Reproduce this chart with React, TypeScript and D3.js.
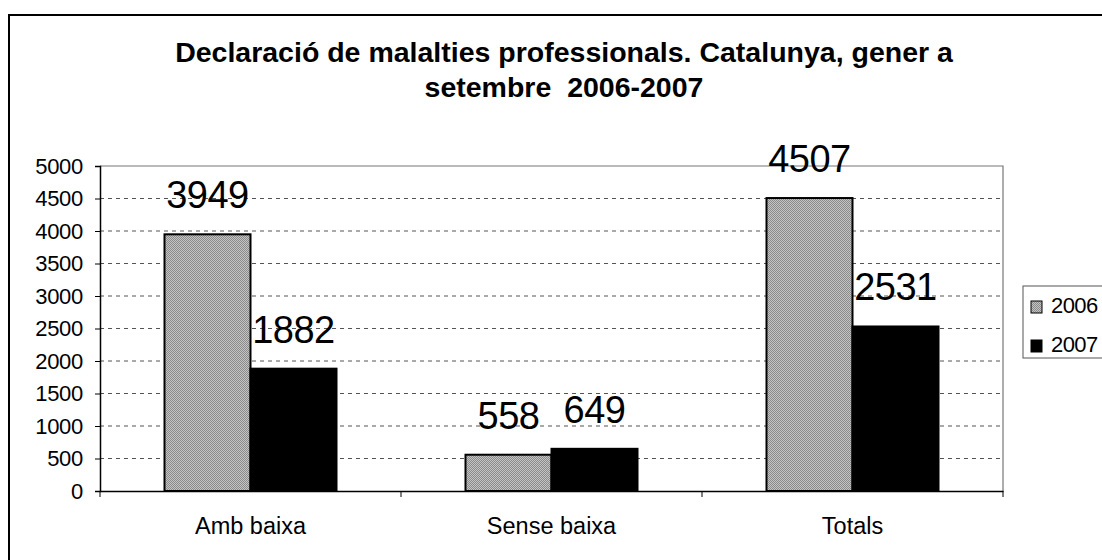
import React, { useEffect, useRef } from "react";
import * as d3 from "d3";

const categories = ["Amb baixa", "Sense baixa", "Totals"];
const series = ["2006", "2007"];
const values2006 = [3949, 558, 4507];
const values2007 = [1882, 649, 2531];
const yTicks = [0, 500, 1000, 1500, 2000, 2500, 3000, 3500, 4000, 4500, 5000];
const titleLines = [
  "Declaració de malalties professionals. Catalunya, gener a",
  "setembre  2006-2007",
];

const width = 1102;
const height = 560;
const marginTop = 166;
const marginBottom = 491;
const marginLeft = 100;
const marginRight = 1003;
const font = "'Liberation Sans', Arial, sans-serif";

const drawChart = (node: SVGSVGElement) => {
  const svg = d3.select(node);
  svg.selectAll("*").remove();

  // halftone grey used by Excel for the 2006 series
  const defs = svg.append("defs");
  const pat = defs
    .append("pattern")
    .attr("id", "grey")
    .attr("width", 2)
    .attr("height", 2)
    .attr("patternUnits", "userSpaceOnUse");
  pat.append("rect").attr("width", 2).attr("height", 2).attr("fill", "#c4c4c4");
  pat.append("rect").attr("width", 1).attr("height", 1).attr("fill", "#8a8a8a");
  pat.append("rect").attr("x", 1).attr("y", 1).attr("width", 1).attr("height", 1).attr("fill", "#8a8a8a");

  svg.append("rect").attr("width", width).attr("height", height).attr("fill", "#fff");

  // outer chart border
  svg
    .append("path")
    .attr("d", `M9,${height + 5}V15H${width + 5}`)
    .attr("fill", "none")
    .attr("stroke", "#000")
    .attr("stroke-width", 2);

  // title
  svg
    .append("g")
    .selectAll("text")
    .data(titleLines)
    .enter()
    .append("text")
    .attr("x", 564)
    .attr("y", (d, i) => 62 + i * 35)
    .attr("text-anchor", "middle")
    .attr("font-family", font)
    .attr("font-weight", "bold")
    .attr("font-size", 28.5)
    .style("white-space", "pre")
    .text((d) => d);

  const x0 = d3.scaleBand().domain(categories).range([marginLeft, marginRight]).padding(0);
  const x1 = d3
    .scaleBand()
    .domain(series)
    .range([0, x0.bandwidth()])
    .paddingInner(0)
    .paddingOuter(0.75);
  const y = d3.scaleLinear().domain([0, 5000]).range([marginBottom, marginTop]);

  // gridlines
  svg
    .append("g")
    .selectAll("line")
    .data(yTicks.filter((t) => t > 0 && t < 5000))
    .enter()
    .append("line")
    .attr("x1", marginLeft)
    .attr("x2", marginRight)
    .attr("y1", (d) => y(d))
    .attr("y2", (d) => y(d))
    .attr("stroke", "#555")
    .attr("stroke-dasharray", "4,4");

  // plot area frame (top + right)
  svg
    .append("path")
    .attr("d", `M${marginLeft},${marginTop}H${marginRight}V${marginBottom}`)
    .attr("fill", "none")
    .attr("stroke", "#777")
    .attr("stroke-width", 1.2);

  const rows = categories.map((c, i) => ({
    cat: c,
    vals: [
      { s: "2006", v: values2006[i] },
      { s: "2007", v: values2007[i] },
    ],
  }));

  const groups = svg
    .append("g")
    .selectAll("g")
    .data(rows)
    .enter()
    .append("g")
    .attr("transform", (d) => `translate(${x0(d.cat)},0)`);

  groups
    .selectAll("rect")
    .data((d) => d.vals)
    .enter()
    .append("rect")
    .attr("x", (d) => x1(d.s)!)
    .attr("y", (d) => y(d.v))
    .attr("width", x1.bandwidth())
    .attr("height", (d) => y(0) - y(d.v))
    .attr("fill", (d) => (d.s === "2006" ? "url(#grey)" : "#000"))
    .attr("stroke", "#000")
    .attr("stroke-width", 2);

  groups
    .selectAll("text")
    .data((d) => d.vals)
    .enter()
    .append("text")
    .attr("x", (d) => x1(d.s)! + x1.bandwidth() / 2)
    .attr("y", (d) => y(d.v) - 26)
    .attr("text-anchor", "middle")
    .attr("font-family", font)
    .attr("font-size", 38)
    .attr("letter-spacing", -0.5)
    .text((d) => d.v);

  // y axis
  const yAxis = svg
    .append("g")
    .attr("transform", `translate(${marginLeft},0)`)
    .call(
      d3.axisLeft(y).tickValues(yTicks).tickFormat(d3.format("d")).tickSize(5).tickPadding(12)
    );
  yAxis.select(".domain").attr("stroke", "#000").attr("stroke-width", 1.5);
  yAxis
    .selectAll("text")
    .attr("font-family", font)
    .attr("font-size", 22)
    .attr("letter-spacing", -0.3)
    .attr("fill", "#000");

  // x axis
  const xAxis = svg
    .append("g")
    .attr("transform", `translate(0,${marginBottom})`)
    .call(d3.axisBottom(x0).tickSize(0).tickPadding(26));
  xAxis.select(".domain").attr("stroke", "#000").attr("stroke-width", 1.5);
  xAxis
    .selectAll("text")
    .attr("font-family", font)
    .attr("font-size", 23.5)
    .attr("fill", "#000");
  xAxis
    .selectAll("line.sep")
    .data([...categories.map((c) => x0(c)!), marginRight])
    .enter()
    .append("line")
    .attr("class", "sep")
    .attr("x1", (d) => d)
    .attr("x2", (d) => d)
    .attr("y1", 0)
    .attr("y2", 6)
    .attr("stroke", "#000");

  // legend
  const legend = svg.append("g").attr("transform", "translate(1023,286)");
  legend
    .append("rect")
    .attr("width", 100)
    .attr("height", 72)
    .attr("fill", "#fff")
    .attr("stroke", "#555");
  const items = legend
    .selectAll("g")
    .data(series)
    .enter()
    .append("g")
    .attr("transform", (d, i) => `translate(8,${27 + i * 39})`);
  items
    .append("rect")
    .attr("y", -12)
    .attr("width", 11)
    .attr("height", 12)
    .attr("fill", (d) => (d === "2006" ? "url(#grey)" : "#000"))
    .attr("stroke", "#000");
  items
    .append("text")
    .attr("x", 20)
    .attr("y", 0)
    .attr("font-family", font)
    .attr("font-size", 22)
    .attr("letter-spacing", -0.6)
    .text((d) => d);
};

export default function App() {
  const ref = useRef<SVGSVGElement>(null);
  useEffect(() => {
    if (ref.current) drawChart(ref.current);
  }, []);
  return (
    <svg
      ref={ref}
      width={width}
      height={height}
      style={{ position: "absolute", left: 0, top: 0 }}
    />
  );
}
